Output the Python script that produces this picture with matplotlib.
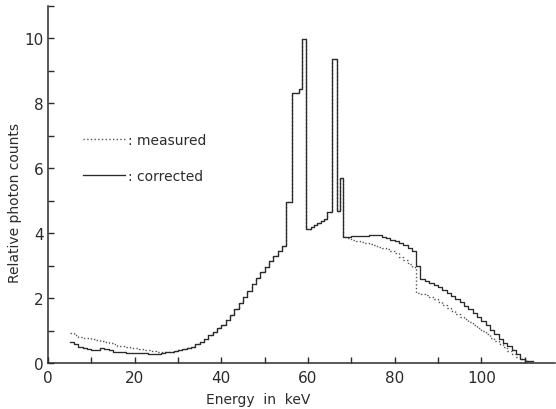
import numpy as np
import matplotlib.pyplot as plt
from matplotlib.ticker import MultipleLocator

# low energy part (curves separate)
e_low = [5, 6, 7, 8, 9, 10, 11, 12, 13, 14, 15, 16, 17, 18, 19, 20, 21, 22, 23, 24, 25, 26]
corr_low = [0.64, 0.58, 0.50, 0.46, 0.42, 0.40, 0.41, 0.45, 0.43, 0.40, 0.35, 0.33, 0.33, 0.32,
            0.32, 0.31, 0.31, 0.30, 0.29, 0.28, 0.29, 0.31]
meas_low = [0.91, 0.86, 0.80, 0.78, 0.76, 0.74, 0.71, 0.68, 0.65, 0.62, 0.57, 0.53, 0.51, 0.49,
            0.47, 0.45, 0.43, 0.41, 0.39, 0.37, 0.35, 0.34]

# middle part incl. characteristic lines (curves coincide)
e_mid = [27, 28, 29, 30, 31, 32, 33, 34, 35, 36, 37, 38, 39, 40, 41, 42, 43, 44, 45, 46, 47, 48,
         49, 50, 51, 52, 53, 54, 54.9, 56.2, 57.9, 58.5, 59.6, 60.6, 61.4, 62.1, 62.9, 63.7, 64.3,
         65.6, 66.7, 67.3, 68.0]
val_mid = [0.33, 0.35, 0.37, 0.40, 0.43, 0.46, 0.50, 0.57, 0.65, 0.74, 0.85, 0.96, 1.07, 1.17,
           1.32, 1.48, 1.65, 1.84, 2.03, 2.22, 2.42, 2.62, 2.80, 2.97, 3.14, 3.30, 3.44, 3.60,
           4.95, 8.33, 8.45, 9.97, 4.12, 4.18, 4.24, 4.30, 4.36, 4.43, 4.64, 9.37, 4.69, 5.71, 3.88]

# high energy part (curves separate)
e_tail_c = [69, 70, 71, 72, 73, 74, 75, 76, 77, 78, 79, 80, 81, 82, 83, 84, 85.0, 85.9, 87, 88,
            89, 90, 91, 92, 93, 94, 95, 96, 97, 98, 99, 100, 101, 102, 103, 104, 105, 106, 107,
            108, 109, 110, 111, 112]
corr_tail = [3.88, 3.90, 3.90, 3.92, 3.92, 3.94, 3.95, 3.93, 3.88, 3.84, 3.80, 3.75, 3.70, 3.62,
             3.55, 3.45, 3.00, 2.58, 2.52, 2.46, 2.40, 2.33, 2.25, 2.16, 2.07, 1.98, 1.88, 1.77,
             1.66, 1.54, 1.43, 1.30, 1.16, 1.02, 0.88, 0.74, 0.63, 0.52, 0.40, 0.28, 0.12, 0.06,
             0.05, 0.05]
e_tail_m = [69, 70, 71, 72, 73, 74, 75, 76, 77, 78, 79, 80, 81, 82, 83, 84, 84.9, 86, 87, 88,
            89, 90, 91, 92, 93, 94, 95, 96, 97, 98, 99, 100, 101, 102, 103, 104, 105, 106, 107,
            108, 109, 110, 111]
meas_tail = [3.85, 3.80, 3.77, 3.74, 3.71, 3.66, 3.62, 3.58, 3.54, 3.50, 3.45, 3.38, 3.28, 3.17,
             3.06, 2.97, 2.15, 2.12, 2.08, 2.03, 1.97, 1.89, 1.80, 1.70, 1.61, 1.52, 1.43, 1.35,
             1.26, 1.17, 1.08, 0.98, 0.88, 0.78, 0.67, 0.57, 0.48, 0.38, 0.29, 0.20, 0.11, 0.05,
             0.05]

e_corr = np.array(e_low + e_mid + e_tail_c)
corrected = np.array(corr_low + val_mid + corr_tail)
e_meas = np.array(e_low + e_mid + e_tail_m)
measured = np.array(meas_low + val_mid + meas_tail)

ink = '#2b2b2b'
plt.rcParams['font.family'] = ['DejaVu Sans']

fig = plt.figure(figsize=(5.56, 4.10), dpi=100)
ax = fig.add_axes([0.0863, 0.1122, 0.912, 0.871])

ax.plot(e_meas, measured, ls=':', color='#555555', lw=1.0, drawstyle='steps-post', label=': measured')
ax.plot(e_corr, corrected, ls='-', color=ink, lw=0.95, drawstyle='steps-post', label=': corrected')

ax.set_xlim(0, 117)
ax.set_ylim(0, 11)
for s in ['top', 'right']:
    ax.spines[s].set_visible(False)
for s in ['left', 'bottom']:
    ax.spines[s].set_color(ink)
    ax.spines[s].set_linewidth(1.1)

ax.xaxis.set_major_locator(MultipleLocator(20))
ax.xaxis.set_minor_locator(MultipleLocator(10))
ax.yaxis.set_major_locator(MultipleLocator(2))
ax.yaxis.set_minor_locator(MultipleLocator(1))
ax.tick_params(which='both', direction='in', length=4, width=1, color=ink,
               labelsize=11, labelcolor=ink)
ax.tick_params(axis='y', pad=3)
ax.tick_params(axis='x', pad=5)

fig.text(0.027, 0.505, 'Relative photon counts', rotation=90, ha='center', va='center',
         fontsize=10, color=ink)
fig.text(0.465, 0.025, 'Energy  in  keV', ha='center', va='center', fontsize=10, color=ink)

ax.legend(loc='upper left', bbox_to_anchor=(0.045, 0.68), frameon=False, fontsize=10,
          handlelength=3.0, handletextpad=0.2, labelspacing=1.6, labelcolor=ink)

plt.savefig('out.png', dpi=100)
